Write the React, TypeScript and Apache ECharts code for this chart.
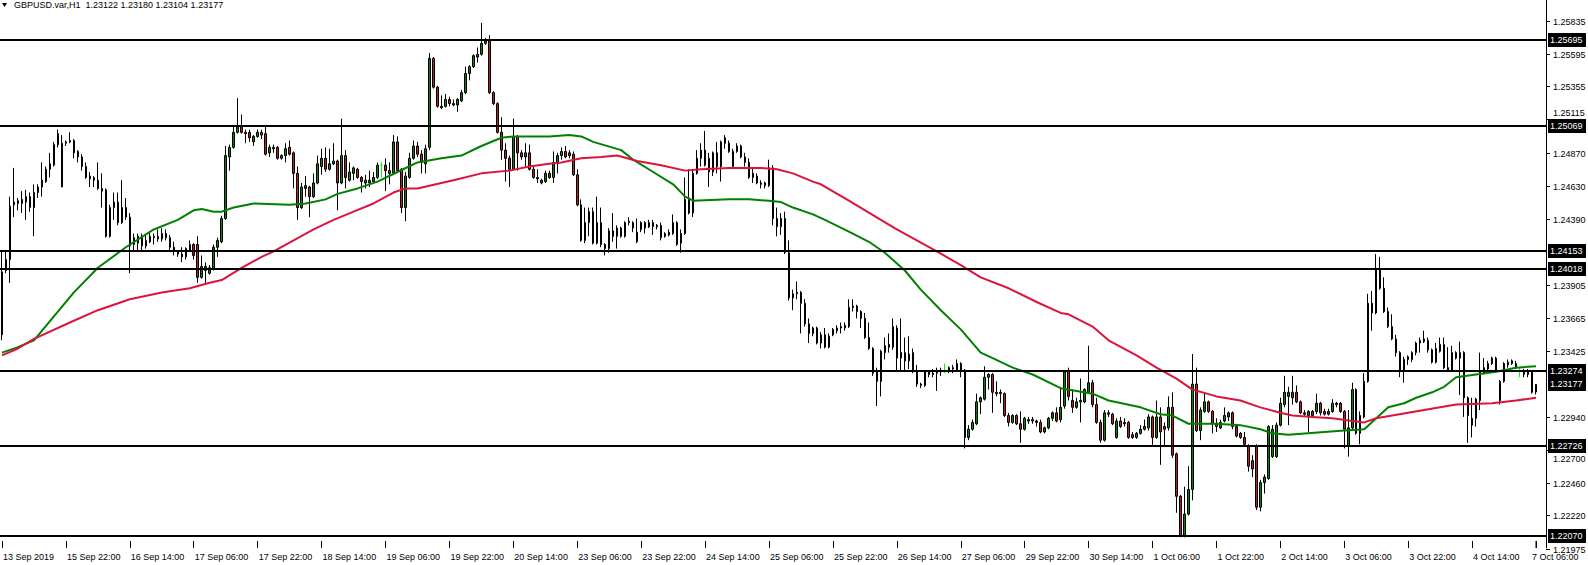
import React, { useEffect, useRef } from "react";
import * as echarts from "echarts";

const FONT = '"Liberation Sans", Arial, sans-serif';

const titleText = "GBPUSD.var,H1  1.23122 1.23180 1.23104 1.23177";

const xTickLabels = [
  "13 Sep 2019", "15 Sep 22:00", "16 Sep 14:00", "17 Sep 06:00", "17 Sep 22:00",
  "18 Sep 14:00", "19 Sep 06:00", "19 Sep 22:00", "20 Sep 14:00", "23 Sep 06:00",
  "23 Sep 22:00", "24 Sep 14:00", "25 Sep 06:00", "25 Sep 22:00", "26 Sep 14:00",
  "27 Sep 06:00", "29 Sep 22:00", "30 Sep 14:00", "1 Oct 06:00", "1 Oct 22:00",
  "2 Oct 14:00", "3 Oct 06:00", "3 Oct 22:00", "4 Oct 14:00", "7 Oct 06:00",
];

// visible price-scale labels (the ones hidden under the level boxes are omitted)
const priceTicks = [
  1.25835, 1.25595, 1.25355, 1.25115, 1.2487, 1.2463, 1.2439, 1.23905,
  1.23665, 1.23425, 1.2294, 1.227, 1.2246, 1.2222, 1.21975,
];

const levelLines = [1.25695, 1.25069, 1.24153, 1.24018, 1.23274, 1.22726, 1.2207];
const currentPrice = 1.23177;

const openP = [
  1.2354,1.2401,1.2409,1.2449,1.2452,1.2450,1.2451,1.2455,1.2447,1.2458,
  1.2462,1.2466,1.2475,1.2478,1.2493,1.2462,1.2495,1.2495,1.2496,1.2488,
  1.2484,1.2477,1.2470,1.2469,1.2467,1.2461,1.2460,1.2426,1.2447,1.2451,
  1.2436,1.2447,1.2440,1.2420,1.2421,1.2426,1.2419,1.2422,1.2425,1.2426,
  1.2424,1.2428,1.2425,1.2418,1.2415,1.2413,1.2411,1.2416,1.2420,1.2420,
  1.2396,1.2401,1.2399,1.2402,1.2418,1.2422,1.2439,1.2484,1.2491,1.2502,
  1.2507,1.2502,1.2502,1.2495,1.2499,1.2500,1.2501,1.2487,1.2490,1.2491,
  1.2483,1.2485,1.2491,1.2487,1.2472,1.2447,1.2461,1.2462,1.2455,1.2465,
  1.2477,1.2483,1.2475,1.2479,1.2481,1.2465,1.2485,1.2467,1.2472,1.2475,
  1.2469,1.2465,1.2467,1.2466,1.2469,1.2478,1.2478,1.2474,1.2472,1.2495,
  1.2475,1.2447,1.2469,1.2483,1.2492,1.2486,1.2479,1.2491,1.2556,1.2535,
  1.2521,1.2521,1.2526,1.2523,1.2522,1.2525,1.2531,1.2545,1.2550,1.2557,
  1.2559,1.2567,1.2569,1.2531,1.2523,1.2502,1.2489,1.2483,1.2475,1.2499,
  1.2487,1.2484,1.2487,1.2475,1.2469,1.2467,1.2466,1.2472,1.2469,1.2479,
  1.2485,1.2488,1.2485,1.2486,1.2471,1.2449,1.2423,1.2436,1.2444,1.2421,
  1.2436,1.2420,1.2417,1.2430,1.2426,1.2432,1.2426,1.2436,1.2436,1.2422,
  1.2431,1.2436,1.2433,1.2436,1.2434,1.2434,1.2426,1.2427,1.2428,1.2436,
  1.2421,1.2428,1.2453,1.2443,1.2472,1.2483,1.2489,1.2483,1.2473,1.2487,
  1.2477,1.2498,1.2494,1.2477,1.2488,1.2492,1.2484,1.2480,1.2472,1.2470,
  1.2465,1.2465,1.2463,1.2476,1.2439,1.2433,1.2439,1.2414,1.2381,1.2384,
  1.2385,1.2377,1.2362,1.2355,1.2359,1.2348,1.2354,1.2345,1.2354,1.2357,
  1.2359,1.2359,1.2360,1.2374,1.2375,1.2371,1.2366,1.2352,1.2344,1.2327,
  1.2320,1.2341,1.2345,1.2345,1.2359,1.2337,1.2341,1.2340,1.2341,1.2327,
  1.2318,1.2317,1.2327,1.2325,1.2326,1.2328,1.2327,1.2327,1.2330,1.2328,
  1.2333,1.2328,1.2279,1.2285,1.2289,1.2305,1.2307,1.2323,1.2325,1.2312,
  1.2311,1.2311,1.2295,1.2290,1.2295,1.2289,1.2285,1.2291,1.2292,1.2291,
  1.2290,1.2283,1.2286,1.2293,1.2297,1.2292,1.2302,1.2327,1.2306,1.2301,
  1.2305,1.2305,1.2312,1.2319,1.2303,1.2290,1.2277,1.2297,1.2296,1.2279,
  1.2291,1.2289,1.2290,1.2281,1.2279,1.2282,1.2285,1.2286,1.2294,1.2279,
  1.2294,1.2287,1.2286,1.2301,1.2267,1.2236,1.2207,1.2223,1.2241,1.2318,
  1.2284,1.2298,1.2305,1.2298,1.2289,1.2286,1.2291,1.2294,1.2297,1.2287,
  1.2282,1.2279,1.2273,1.2262,1.2273,1.2228,1.2246,1.2249,1.2265,1.2265,
  1.2288,1.2303,1.2309,1.2312,1.2312,1.2305,1.2297,1.2295,1.2298,1.2298,
  1.2304,1.2298,1.2296,1.2298,1.2304,1.2304,1.2298,1.2273,1.2286,1.2314,
  1.2282,1.2294,1.2320,1.2377,1.2370,1.2402,1.2388,1.2371,1.2360,1.2351,
  1.2341,1.2328,1.2336,1.2336,1.2341,1.2348,1.2349,1.2350,1.2343,1.2334,
  1.2342,1.2347,1.2330,1.2328,1.2341,1.2337,1.2341,1.2308,1.2288,1.2293,
  1.2306,1.2326,1.2329,1.2333,1.2337,1.2306,1.2320,1.2332,1.2335,1.2333,
  1.2330,1.2328,1.2328,1.2327,1.23122,
];

const closeP = [
  1.2400,1.2409,1.2448,1.2451,1.2450,1.2453,1.2455,1.2447,1.2458,1.2462,
  1.2467,1.2475,1.2479,1.2493,1.2501,1.2494,1.2494,1.2496,1.2487,1.2484,
  1.2477,1.2469,1.2468,1.2467,1.2461,1.2459,1.2426,1.2447,1.2451,1.2436,
  1.2447,1.2440,1.2419,1.2425,1.2426,1.2419,1.2423,1.2426,1.2426,1.2424,
  1.2428,1.2425,1.2418,1.2415,1.2413,1.2411,1.2417,1.2420,1.2412,1.2396,
  1.2404,1.2404,1.2403,1.2418,1.2423,1.2439,1.2485,1.2491,1.2502,1.2507,
  1.2502,1.2501,1.2498,1.2499,1.2502,1.2502,1.2486,1.2491,1.2491,1.2483,
  1.2485,1.2490,1.2486,1.2472,1.2447,1.2462,1.2463,1.2455,1.2465,1.2479,
  1.2483,1.2475,1.2479,1.2481,1.2465,1.2485,1.2469,1.2473,1.2476,1.2469,
  1.2466,1.2467,1.2465,1.2469,1.2478,1.2478,1.2474,1.2472,1.2495,1.2474,
  1.2447,1.2470,1.2483,1.2492,1.2486,1.2480,1.2490,1.2556,1.2535,1.2521,
  1.2520,1.2526,1.2523,1.2522,1.2526,1.2531,1.2545,1.2550,1.2558,1.2559,
  1.2567,1.2569,1.2531,1.2523,1.2502,1.2489,1.2483,1.2475,1.2499,1.2487,
  1.2484,1.2487,1.2475,1.2469,1.2468,1.2465,1.2472,1.2469,1.2480,1.2485,
  1.2488,1.2484,1.2487,1.2471,1.2449,1.2423,1.2436,1.2444,1.2421,1.2436,
  1.2420,1.2417,1.2430,1.2426,1.2432,1.2426,1.2436,1.2437,1.2432,1.2429,
  1.2436,1.2432,1.2436,1.2433,1.2433,1.2425,1.2428,1.2429,1.2436,1.2420,
  1.2428,1.2453,1.2443,1.2472,1.2483,1.2489,1.2478,1.2473,1.2487,1.2477,
  1.2495,1.2494,1.2488,1.2488,1.2492,1.2484,1.2480,1.2469,1.2469,1.2465,
  1.2464,1.2463,1.2476,1.2439,1.2433,1.2439,1.2414,1.2381,1.2384,1.2385,
  1.2377,1.2362,1.2355,1.2359,1.2348,1.2354,1.2345,1.2353,1.2358,1.2359,
  1.2360,1.2361,1.2374,1.2375,1.2371,1.2366,1.2352,1.2344,1.2326,1.2320,
  1.2342,1.2346,1.2347,1.2360,1.2337,1.2341,1.2335,1.2335,1.2327,1.2318,
  1.2317,1.2327,1.2325,1.2326,1.2328,1.2327,1.2327,1.2330,1.2329,1.2333,
  1.2328,1.2279,1.2285,1.2290,1.2305,1.2308,1.2323,1.2325,1.2312,1.2311,
  1.2312,1.2295,1.2290,1.2295,1.2289,1.2285,1.2293,1.2292,1.2291,1.2290,
  1.2283,1.2286,1.2293,1.2297,1.2291,1.2301,1.2327,1.2309,1.2301,1.2305,
  1.2306,1.2314,1.2319,1.2303,1.2290,1.2277,1.2297,1.2296,1.2289,1.2291,
  1.2287,1.2290,1.2279,1.2279,1.2282,1.2285,1.2287,1.2294,1.2279,1.2294,
  1.2283,1.2285,1.2301,1.2266,1.2236,1.2207,1.2223,1.2241,1.2318,1.2284,
  1.2299,1.2305,1.2298,1.2289,1.2287,1.2290,1.2295,1.2297,1.2287,1.2280,
  1.2279,1.2274,1.2258,1.2256,1.2228,1.2246,1.2250,1.2287,1.2285,1.2288,
  1.2304,1.2312,1.2312,1.2308,1.2305,1.2297,1.2296,1.2298,1.2295,1.2304,
  1.2297,1.2296,1.2298,1.2304,1.2303,1.2298,1.2285,1.2286,1.2314,1.2282,
  1.2295,1.2320,1.2377,1.2370,1.2402,1.2388,1.2371,1.2360,1.2351,1.2341,
  1.2328,1.2336,1.2338,1.2341,1.2348,1.2350,1.2351,1.2343,1.2334,1.2344,
  1.2347,1.2330,1.2328,1.2341,1.2337,1.2341,1.2308,1.2295,1.2293,1.2307,
  1.2327,1.2330,1.2333,1.2337,1.2328,1.2320,1.2333,1.2334,1.2333,1.2330,
  1.2330,1.2325,1.2325,1.2312,1.23177,
];

const highP = [
  1.2416,1.2416,1.2455,1.2476,1.2454,1.2459,1.2460,1.2458,1.2464,1.2464,
  1.2480,1.2477,1.2487,1.2495,1.2504,1.2500,1.2496,1.2502,1.2497,1.2489,
  1.2486,1.2480,1.2473,1.2470,1.2480,1.2472,1.2461,1.2449,1.2458,1.2458,
  1.2467,1.2454,1.2443,1.2428,1.2428,1.2428,1.2427,1.2429,1.2428,1.2431,
  1.2432,1.2431,1.2427,1.2422,1.2416,1.2418,1.2418,1.2423,1.2421,1.2426,
  1.2412,1.2407,1.2405,1.2420,1.2425,1.2441,1.2492,1.2493,1.2506,1.2527,
  1.2515,1.2504,1.2504,1.2500,1.2504,1.2504,1.2506,1.2493,1.2493,1.2492,
  1.2486,1.2494,1.2496,1.2488,1.2477,1.2465,1.2470,1.2463,1.2472,1.2485,
  1.2490,1.2491,1.2490,1.2494,1.2482,1.2512,1.2489,1.2480,1.2477,1.2476,
  1.2470,1.2471,1.2474,1.2473,1.2480,1.2480,1.2483,1.2480,1.2500,1.2499,
  1.2476,1.2473,1.2487,1.2496,1.2495,1.2489,1.2493,1.2560,1.2557,1.2536,
  1.2529,1.2530,1.2528,1.2526,1.2527,1.2533,1.2550,1.2551,1.2559,1.2564,
  1.2582,1.2571,1.2573,1.2532,1.2524,1.2513,1.2494,1.2485,1.2512,1.2500,
  1.2489,1.2494,1.2493,1.2477,1.2475,1.2468,1.2474,1.2474,1.2488,1.2487,
  1.2491,1.2492,1.2489,1.2488,1.2475,1.2453,1.2447,1.2447,1.2447,1.2455,
  1.2447,1.2421,1.2432,1.2443,1.2434,1.2433,1.2437,1.2440,1.2437,1.2439,
  1.2437,1.2437,1.2438,1.2438,1.2435,1.2436,1.2429,1.2431,1.2442,1.2437,
  1.2431,1.2469,1.2475,1.2475,1.2489,1.2494,1.2503,1.2487,1.2488,1.2495,
  1.2496,1.2500,1.2496,1.2490,1.2494,1.2493,1.2487,1.2483,1.2476,1.2472,
  1.2467,1.2466,1.2482,1.2478,1.2447,1.2443,1.2444,1.2423,1.2387,1.2393,
  1.2386,1.2380,1.2366,1.2360,1.2360,1.2356,1.2359,1.2355,1.2359,1.2361,
  1.2363,1.2363,1.2380,1.2380,1.2376,1.2372,1.2370,1.2363,1.2345,1.2330,
  1.2343,1.2352,1.2355,1.2366,1.2361,1.2366,1.2352,1.2353,1.2344,1.2332,
  1.2319,1.2328,1.2328,1.2329,1.2330,1.2330,1.2333,1.2331,1.2332,1.2336,
  1.2334,1.2329,1.2288,1.2292,1.2311,1.2309,1.2331,1.2326,1.2326,1.2320,
  1.2314,1.2312,1.2297,1.2296,1.2296,1.2298,1.2294,1.2294,1.2294,1.2292,
  1.2292,1.2287,1.2294,1.2298,1.2301,1.2315,1.2328,1.2330,1.2314,1.2308,
  1.2322,1.2315,1.2346,1.2321,1.2308,1.2292,1.2299,1.2299,1.2297,1.2293,
  1.2294,1.2293,1.2291,1.2283,1.2283,1.2288,1.2292,1.2296,1.2295,1.2306,
  1.2301,1.2290,1.2309,1.2312,1.2268,1.2237,1.2243,1.2258,1.2340,1.2330,
  1.2301,1.2312,1.2306,1.2299,1.2293,1.2292,1.2301,1.2298,1.2298,1.2289,
  1.2283,1.2283,1.2274,1.2266,1.2274,1.2248,1.2252,1.2288,1.2288,1.2290,
  1.2308,1.2324,1.2316,1.2324,1.2317,1.2306,1.2299,1.2299,1.2299,1.2311,
  1.2305,1.2300,1.2300,1.2307,1.2305,1.2305,1.2299,1.2299,1.2319,1.2315,
  1.2298,1.2326,1.2384,1.2386,1.2413,1.2411,1.2396,1.2374,1.2369,1.2354,
  1.2342,1.2338,1.2339,1.2342,1.2349,1.2352,1.2357,1.2352,1.2344,1.2348,
  1.2352,1.2352,1.2345,1.2346,1.2342,1.2349,1.2342,1.2309,1.2308,1.2308,
  1.2341,1.2337,1.2335,1.2338,1.2338,1.2321,1.2334,1.2336,1.2336,1.2335,
  1.2330,1.2329,1.2329,1.2328,1.23180,
];

const lowP = [
  1.2350,1.2399,1.2392,1.2440,1.2445,1.2443,1.2438,1.2444,1.2426,1.2454,
  1.2455,1.2465,1.2469,1.2477,1.2491,1.2462,1.2492,1.2494,1.2483,1.2480,
  1.2474,1.2468,1.2462,1.2462,1.2460,1.2447,1.2425,1.2425,1.2438,1.2434,
  1.2435,1.2438,1.2399,1.2416,1.2415,1.2416,1.2417,1.2421,1.2420,1.2422,
  1.2422,1.2423,1.2416,1.2412,1.2411,1.2407,1.2409,1.2415,1.2409,1.2392,
  1.2395,1.2392,1.2398,1.2401,1.2411,1.2421,1.2438,1.2474,1.2490,1.2501,
  1.2501,1.2494,1.2495,1.2492,1.2498,1.2497,1.2485,1.2484,1.2487,1.2482,
  1.2482,1.2480,1.2485,1.2461,1.2438,1.2446,1.2455,1.2440,1.2454,1.2464,
  1.2471,1.2473,1.2474,1.2478,1.2445,1.2464,1.2461,1.2466,1.2467,1.2468,
  1.2458,1.2461,1.2462,1.2465,1.2468,1.2469,1.2459,1.2464,1.2471,1.2473,
  1.2443,1.2437,1.2468,1.2482,1.2484,1.2472,1.2472,1.2489,1.2534,1.2520,
  1.2519,1.2520,1.2521,1.2521,1.2517,1.2524,1.2530,1.2540,1.2549,1.2553,
  1.2558,1.2566,1.2530,1.2522,1.2501,1.2482,1.2466,1.2462,1.2474,1.2474,
  1.2482,1.2477,1.2474,1.2468,1.2465,1.2464,1.2465,1.2468,1.2465,1.2472,
  1.2482,1.2483,1.2483,1.2470,1.2448,1.2422,1.2421,1.2426,1.2420,1.2420,
  1.2418,1.2412,1.2414,1.2422,1.2417,1.2425,1.2425,1.2434,1.2429,1.2421,
  1.2429,1.2428,1.2432,1.2427,1.2431,1.2423,1.2425,1.2426,1.2427,1.2419,
  1.2414,1.2427,1.2442,1.2440,1.2471,1.2477,1.2477,1.2462,1.2470,1.2472,
  1.2466,1.2490,1.2487,1.2476,1.2487,1.2483,1.2477,1.2468,1.2465,1.2464,
  1.2461,1.2461,1.2462,1.2434,1.2426,1.2427,1.2413,1.2379,1.2372,1.2380,
  1.2355,1.2360,1.2348,1.2353,1.2347,1.2344,1.2344,1.2344,1.2353,1.2355,
  1.2355,1.2357,1.2359,1.2371,1.2366,1.2359,1.2351,1.2343,1.2324,1.2302,
  1.2309,1.2336,1.2341,1.2343,1.2328,1.2328,1.2328,1.2329,1.2326,1.2316,
  1.2315,1.2316,1.2323,1.2323,1.2313,1.2324,1.2326,1.2326,1.2326,1.2327,
  1.2323,1.2271,1.2277,1.2284,1.2288,1.2296,1.2306,1.2314,1.2297,1.2309,
  1.2304,1.2294,1.2287,1.2289,1.2288,1.2275,1.2284,1.2289,1.2289,1.2287,
  1.2282,1.2282,1.2285,1.2291,1.2290,1.2290,1.2300,1.2306,1.2297,1.2300,
  1.2290,1.2304,1.2311,1.2301,1.2289,1.2275,1.2276,1.2294,1.2288,1.2278,
  1.2286,1.2287,1.2278,1.2278,1.2278,1.2281,1.2284,1.2284,1.2272,1.2278,
  1.2259,1.2272,1.2284,1.2264,1.2224,1.2206,1.2206,1.2222,1.2233,1.2283,
  1.2277,1.2297,1.2297,1.2282,1.2283,1.2285,1.2290,1.2291,1.2285,1.2279,
  1.2278,1.2273,1.2254,1.2250,1.2226,1.2225,1.2238,1.2248,1.2264,1.2264,
  1.2287,1.2301,1.2288,1.2303,1.2304,1.2296,1.2294,1.2283,1.2294,1.2296,
  1.2295,1.2295,1.2295,1.2297,1.2301,1.2297,1.2271,1.2265,1.2284,1.2281,
  1.2274,1.2293,1.2319,1.2357,1.2369,1.2387,1.2370,1.2359,1.2350,1.2338,
  1.2323,1.2319,1.2332,1.2334,1.2339,1.2341,1.2348,1.2341,1.2333,1.2333,
  1.2341,1.2329,1.2327,1.2327,1.2336,1.2310,1.2294,1.2275,1.2279,1.2287,
  1.2299,1.2325,1.2328,1.2332,1.2327,1.2303,1.2319,1.2330,1.2332,1.2329,
  1.2323,1.2323,1.2323,1.2311,1.23104,
];

const maFastBars = [0,4,8,12,18,24,31,38,44,48,50,53,55,58,63,72,76,81,84,89,94,99,104,110,115,120,125,128,132,137,142,145,148,155,158,163,168,171,173,182,187,192,195,198,203,206,213,217,221,226,230,235,240,245,248,253,258,265,273,277,285,290,293,297,304,310,315,318,322,331,336,341,344,347,351,354,358,361,364,369,374,379,384];
const maFastValues = [1.2341,1.2345,1.2350,1.2364,1.2385,1.2403,1.2418,1.2431,1.2438,1.2445,1.2446,1.2444,1.2444,1.2447,1.2450,1.2449,1.2450,1.2453,1.2457,1.2461,1.2466,1.2473,1.2480,1.2483,1.2485,1.2492,1.2498,1.2499,1.2499,1.2499,1.2500,1.2499,1.2495,1.2489,1.2482,1.2473,1.2464,1.2455,1.2452,1.2453,1.2453,1.2452,1.2451,1.2447,1.2442,1.2438,1.2428,1.2422,1.2414,1.2401,1.2387,1.2372,1.2358,1.2341,1.2337,1.2330,1.2325,1.2315,1.2311,1.2306,1.2301,1.2296,1.2295,1.2289,1.2289,1.2288,1.2285,1.2282,1.2281,1.2283,1.2284,1.2285,1.2293,1.2301,1.2304,1.2308,1.2312,1.2316,1.2323,1.2325,1.2327,1.2330,1.2331];
const maSlowBars = [0,4,8,17,24,32,40,47,52,55,60,65,68,73,78,83,88,93,98,101,104,107,113,120,127,132,137,140,145,150,154,159,165,171,175,182,190,194,198,203,205,212,220,224,234,240,245,252,259,265,267,273,277,284,289,294,298,304,310,315,320,323,328,333,338,341,344,348,356,364,373,379,384];
const maSlowValues = [1.2339,1.2344,1.2351,1.2363,1.2372,1.2380,1.2385,1.2388,1.2392,1.2394,1.2403,1.2411,1.2415,1.2423,1.2431,1.2438,1.2444,1.2450,1.2458,1.2461,1.2461,1.2463,1.2467,1.2472,1.2474,1.2477,1.2479,1.2480,1.2483,1.2484,1.2485,1.2481,1.2478,1.2474,1.2475,1.2476,1.2476,1.2475,1.2472,1.2466,1.2464,1.2452,1.2438,1.2431,1.2415,1.2405,1.2396,1.2388,1.2378,1.2370,1.2369,1.2360,1.2350,1.2339,1.2330,1.2322,1.2314,1.2309,1.2306,1.2301,1.2297,1.2295,1.2294,1.2293,1.2291,1.2290,1.2293,1.2295,1.2299,1.2303,1.2304,1.2306,1.2308];

// hourly bar times (forex week: Sunday 22:00 to Friday 21:00)
function buildBarTimes(count: number): string[] {
  const out: string[] = [];
  let t = Date.UTC(2019, 8, 13, 6);
  while (out.length < count) {
    const d = new Date(t);
    const wd = d.getUTCDay();
    const h = d.getUTCHours();
    const closed = (wd === 5 && h >= 22) || wd === 6 || (wd === 0 && h < 22);
    if (!closed) out.push(d.toISOString().slice(0, 13) + ":00");
    t += 3600000;
  }
  return out;
}

export default function App() {
  const ref = useRef<HTMLDivElement>(null);

  useEffect(() => {
    document.body.style.margin = "0";
    if (!ref.current) return;
    const chart = echarts.init(ref.current, undefined, { renderer: "svg" });

    const barTimes = buildBarTimes(openP.length);
    const categories = [...barTimes, "pad-1", "pad-2"];
    const candles = openP.map((o, i) => [o, closeP[i], lowP[i], highP[i]]);
    const lastIdx = openP.length - 1;
    const yMin = 1.21982;
    const boxValues = [...levelLines, currentPrice];

    const option: any = {
      animation: false,
      backgroundColor: "#ffffff",
      textStyle: { fontFamily: FONT },
      grid: { left: -2.5, top: 0, width: 1548.5, height: 548, containLabel: false },
      xAxis: {
        type: "category",
        data: categories,
        boundaryGap: true,
        axisLine: { show: false },
        axisTick: {
          show: true,
          interval: 15,
          alignWithLabel: true,
          inside: true,
          length: 7,
          lineStyle: { color: "#000", width: 1 },
        },
        axisLabel: {
          interval: 15,
          align: "left",
          margin: 4,
          padding: [0, 0, 0, 1],
          color: "#000",
          fontSize: 9,
          fontFamily: FONT,
          formatter: (_v: string, idx: number) =>
            idx % 16 === 0 && idx < lastIdx && xTickLabels[idx / 16] ? xTickLabels[idx / 16] : "",
        },
        splitLine: { show: false },
      },
      yAxis: {
        type: "value",
        position: "right",
        min: yMin,
        max: 1.25987,
        scale: true,
        axisLine: { show: true, lineStyle: { color: "#000", width: 1 } },
        axisTick: { show: false },
        axisLabel: { show: false },
        splitLine: { show: false },
      },
      graphic: [
        {
          type: "polygon",
          shape: { points: [[2, 3], [7, 3], [4.5, 7]] },
          style: { fill: "#000" },
          z: 100,
        },
        {
          type: "text",
          x: 14,
          y: 0,
          style: {
            text: titleText,
            font: `9px ${FONT}`,
            fill: "#000",
            verticalAlign: "top",
          },
          z: 100,
        },
      ],
      series: [
        {
          type: "candlestick",
          data: candles,
          barWidth: 2,
          z: 2,
          itemStyle: {
            color: "#0a7d0a",
            color0: "#b22222",
            borderColor: "#000",
            borderColor0: "#000",
            borderColorDoji: "#00ff00",
            borderWidth: 1,
          },
        },
        {
          type: "line",
          data: maFastBars.map((b, i) => [b, maFastValues[i]]),
          showSymbol: false,
          symbol: "none",
          z: 3,
          lineStyle: { color: "#008000", width: 2 },
        },
        {
          type: "line",
          data: maSlowBars.map((b, i) => [b, maSlowValues[i]]),
          showSymbol: false,
          symbol: "none",
          z: 3,
          lineStyle: { color: "#dc143c", width: 2 },
        },
        {
          // horizontal support / resistance levels
          type: "custom",
          coordinateSystem: "cartesian2d",
          silent: true,
          clip: false,
          z: 4,
          data: levelLines.map((v) => [0, v]),
          renderItem: (params: any, api: any) => {
            const y = Math.round(api.coord([0, api.value(1)])[1]);
            const cs = params.coordSys;
            return {
              type: "line",
              shape: { x1: 0, y1: y, x2: cs.x + cs.width, y2: y },
              style: { stroke: "#000", lineWidth: 2 },
            };
          },
        },
        {
          // last time label, pulled left so it fits the window like the terminal does
          type: "custom",
          coordinateSystem: "cartesian2d",
          silent: true,
          clip: false,
          z: 10,
          data: [[lastIdx, yMin]],
          renderItem: (_params: any, api: any) => {
            const p = api.coord([api.value(0), api.value(1)]);
            return {
              type: "group",
              children: [
                {
                  type: "line",
                  shape: { x1: p[0], y1: p[1] - 7, x2: p[0], y2: p[1] },
                  style: { stroke: "#000", lineWidth: 1 },
                },
                {
                  type: "text",
                  x: p[0] - 4,
                  y: p[1] + 4,
                  style: {
                    text: xTickLabels[xTickLabels.length - 1],
                    fill: "#000",
                    font: `9px ${FONT}`,
                    verticalAlign: "top",
                    align: "left",
                  },
                },
              ],
            };
          },
        },
        {
          // price scale ticks and labels; a label that would sit under a level box is nudged clear of it
          type: "custom",
          coordinateSystem: "cartesian2d",
          silent: true,
          clip: false,
          z: 10,
          data: priceTicks.map((v) => [0, v]),
          renderItem: (params: any, api: any) => {
            const v = api.value(1);
            const y = Math.round(api.coord([0, v])[1]) + 0.5;
            const x0 = params.coordSys.x + params.coordSys.width;
            let ty = y;
            for (const b of boxValues) {
              const yb = api.coord([0, b])[1];
              if (Math.abs(ty - yb) < 12.5) ty = ty < yb ? yb - 12.5 : yb + 12.5;
            }
            return {
              type: "group",
              children: [
                {
                  type: "line",
                  shape: { x1: x0, y1: y, x2: x0 + 4, y2: y },
                  style: { stroke: "#000", lineWidth: 1 },
                },
                {
                  type: "text",
                  x: x0 + 7,
                  y: ty,
                  style: {
                    text: v.toFixed(5),
                    fill: "#000",
                    font: `9px ${FONT}`,
                    verticalAlign: "middle",
                    align: "left",
                  },
                },
              ],
            };
          },
        },
        {
          type: "custom",
          coordinateSystem: "cartesian2d",
          silent: true,
          clip: false,
          z: 11,
          data: boxValues.map((v) => [0, v]),
          renderItem: (params: any, api: any) => {
            const v = api.value(1);
            const y = Math.round(api.coord([0, v])[1]);
            const x0 = params.coordSys.x + params.coordSys.width;
            return {
              type: "group",
              children: [
                {
                  type: "rect",
                  shape: { x: x0 + 2, y: y - 7, width: 38, height: 14 },
                  style: { fill: "#000" },
                },
                {
                  type: "text",
                  x: x0 + 4,
                  y: y,
                  style: {
                    text: v.toFixed(5),
                    fill: "#fff",
                    font: `9px ${FONT}`,
                    verticalAlign: "middle",
                    align: "left",
                  },
                },
              ],
            };
          },
        },
      ],
    };

    chart.setOption(option);
    return () => chart.dispose();
  }, []);

  return (
    <div
      ref={ref}
      style={{ position: "absolute", left: 0, top: 0, width: 1588, height: 565, background: "#fff" }}
    />
  );
}
